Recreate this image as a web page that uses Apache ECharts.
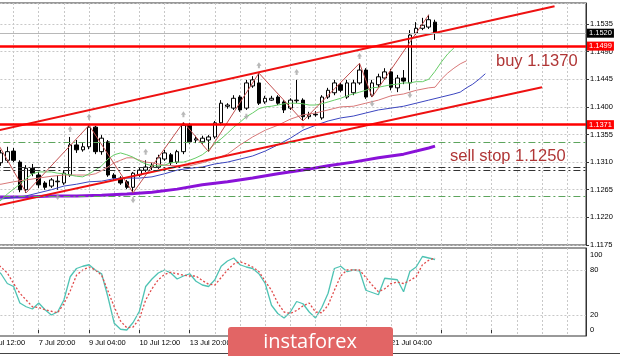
<!DOCTYPE html>
<html><head><meta charset="utf-8">
<script src="https://cdn.jsdelivr.net/npm/echarts@6/dist/echarts.min.js"></script>
<style>html,body{margin:0;padding:0;background:#fff}#c{width:620px;height:356px}</style>
</head><body><div id="c"></div>
<script>
// ---------- data ----------
const BASE = 1.1175;                 // lowest price tick
const PRICE_STEP = 0.0045;           // price tick step
const LEAD = 2;                      // bars before first candle (6 Jul 12:00, 16:00)
const FUTURE = 24;                   // empty bars to the right
const days = ['6 Jul','7 Jul','8 Jul','9 Jul','10 Jul','13 Jul','14 Jul','15 Jul','16 Jul','17 Jul','20 Jul','21 Jul','22 Jul'];
const hours = ['00:00','04:00','08:00','12:00','16:00','20:00'];

// candles i = 0..69 (6 Jul 20:00 .. 22 Jul 08:00), H4
const opens  = [1.1309,1.1313,1.1328,1.1310,1.1265,1.1300,1.1289,1.1276,1.1271,1.1278,1.1276,1.1289,1.1338,1.1330,1.1335,1.1367,1.1327,1.1343,1.1289,1.1284,1.1278,1.1269,1.1289,1.1297,1.1302,1.1302,1.1315,1.1322,1.1310,1.1327,1.1370,1.1346,1.1343,1.1346,1.1351,1.1374,1.1401,1.1398,1.1416,1.1398,1.1434,1.1439,1.1408,1.1411,1.1416,1.1408,1.1398,1.1410,1.1411,1.1384,1.1388,1.1382,1.1416,1.1423,1.1436,1.1416,1.1423,1.1439,1.1460,1.1419,1.1436,1.1447,1.1457,1.1431,1.1447,1.1439,1.1520,1.1528,1.1530,1.1538];
const closes = [1.1325,1.1327,1.1313,1.1265,1.1300,1.1292,1.1273,1.1269,1.1281,1.1279,1.1292,1.1338,1.1330,1.1335,1.1367,1.1327,1.1349,1.1289,1.1284,1.1276,1.1269,1.1292,1.1297,1.1302,1.1305,1.1317,1.1325,1.1309,1.1327,1.1370,1.1343,1.1348,1.1349,1.1351,1.1374,1.1406,1.1403,1.1414,1.1395,1.1439,1.1444,1.1406,1.1414,1.1414,1.1406,1.1395,1.1411,1.1411,1.1384,1.1387,1.1387,1.1416,1.1427,1.1439,1.1427,1.1439,1.1439,1.1460,1.1416,1.1439,1.1449,1.1457,1.1432,1.1447,1.1442,1.1517,1.1528,1.1533,1.1542,1.1520];
const lows   = [1.1304,1.1309,1.1310,1.1261,1.1260,1.1287,1.1268,1.1265,1.1268,1.1265,1.1273,1.1286,1.1325,1.1327,1.1331,1.1323,1.1322,1.1286,1.1281,1.1273,1.1266,1.1260,1.1286,1.1294,1.1297,1.1299,1.1312,1.1305,1.1307,1.1323,1.1340,1.1341,1.1340,1.1327,1.1348,1.1370,1.1397,1.1395,1.1392,1.1395,1.1431,1.1403,1.1405,1.1410,1.1403,1.1390,1.1395,1.1406,1.1377,1.1380,1.1384,1.1379,1.1413,1.1419,1.1424,1.1413,1.1419,1.1436,1.1413,1.1416,1.1432,1.1444,1.1427,1.1424,1.1437,1.1427,1.1517,1.1525,1.1527,1.1509];
const highs  = [1.1330,1.1335,1.1333,1.1313,1.1305,1.1307,1.1294,1.1279,1.1284,1.1289,1.1297,1.1351,1.1346,1.1341,1.1370,1.1369,1.1354,1.1346,1.1292,1.1287,1.1281,1.1294,1.1302,1.1313,1.1309,1.1322,1.1330,1.1325,1.1330,1.1375,1.1374,1.1353,1.1353,1.1354,1.1377,1.1411,1.1406,1.1419,1.1419,1.1444,1.1450,1.1455,1.1418,1.1418,1.1419,1.1411,1.1414,1.1444,1.1414,1.1392,1.1393,1.1419,1.1431,1.1444,1.1439,1.1444,1.1444,1.1471,1.1463,1.1444,1.1454,1.1463,1.1462,1.1452,1.1460,1.1525,1.1538,1.1545,1.1550,1.1542];

// Alligator lips (green), values from bar i = -2 onward
const lips = [1.1232,1.1240,1.1248,1.1258,1.1266,1.1274,1.1283,1.1291,1.1294,1.1294,1.1294,1.1292,1.1291,1.1289,1.1287,1.1286,1.1291,1.1297,1.1304,1.1315,1.1322,1.1325,1.1322,1.1318,1.1312,1.1307,1.1304,1.1304,1.1305,1.1309,1.1310,1.1310,1.1313,1.1317,1.1322,1.1330,1.1340,1.1348,1.1357,1.1367,1.1375,1.1384,1.1390,1.1397,1.1400,1.1401,1.1403,1.1405,1.1406,1.1406,1.1405,1.1403,1.1403,1.1405,1.1408,1.1411,1.1414,1.1418,1.1421,1.1424,1.1427,1.1431,1.1432,1.1434,1.1436,1.1437,1.1439,1.1439,1.1441,1.1441,1.1445,1.1458,1.1473,1.1486,1.1496];
// Alligator teeth (rose) [bar, price]
const teeth = [[-2,1.1273],[0,1.1274],[2,1.1278],[4,1.1281],[6,1.1284],[8,1.1287],[10,1.1289],[12,1.1289],[14,1.1289],[15,1.1291],[16,1.1296],[17,1.1302],[18,1.1309],[19,1.1313],[20,1.1317],[21,1.1317],[22,1.1313],[23,1.1310],[24,1.1309],[26,1.1305],[28,1.1304],[30,1.1304],[32,1.1309],[34,1.1315],[36,1.1323],[38,1.1338],[40,1.1351],[42,1.1362],[44,1.1370],[46,1.1380],[48,1.1387],[50,1.1390],[52,1.1395],[54,1.1400],[56,1.1401],[58,1.1406],[60,1.1411],[62,1.1418],[64,1.1421],[66,1.1427],[68,1.1431],[69,1.1432],[70,1.1445],[71,1.1455],[72,1.1463],[73,1.1470],[74,1.1475]];
// Alligator jaw (blue) [bar, price]
const jaw = [[-2,1.1248],[0,1.1250],[2,1.1252],[4,1.1255],[6,1.1260],[8,1.1265],[10,1.1271],[12,1.1274],[14,1.1278],[16,1.1279],[18,1.1283],[20,1.1284],[22,1.1284],[24,1.1286],[26,1.1291],[28,1.1297],[30,1.1300],[32,1.1302],[34,1.1307],[36,1.1310],[38,1.1315],[40,1.1320],[42,1.1328],[44,1.1338],[46,1.1349],[48,1.1362],[50,1.1370],[52,1.1377],[54,1.1382],[56,1.1385],[58,1.1390],[60,1.1395],[62,1.1398],[64,1.1401],[66,1.1406],[68,1.1411],[70,1.1416],[72,1.1421],[73,1.1424],[74,1.1431],[75,1.1437],[76,1.1445],[77,1.1454]];
// long moving average (purple) [bar, price]
const maLong = [[-2,1.1253],[0,1.1253],[4,1.1253],[8,1.1255],[12,1.1255],[16,1.1256],[20,1.1258],[24,1.1261],[28,1.1266],[32,1.1273],[36,1.1278],[40,1.1284],[44,1.1291],[48,1.1297],[52,1.1304],[56,1.1310],[60,1.1317],[64,1.1323],[68,1.1333],[69,1.1336]];
// zigzag [bar, price]
const zigzag = [[-2,1.1367],[4,1.1260],[14,1.1370],[21,1.1260],[29,1.1375],[33,1.1327],[41,1.1455],[48,1.1377],[57,1.1471],[59,1.1416],[68,1.1550]];
// fractals [bar, price]
const fractalUp = [[11,1.1364],[14,1.1384],[23,1.1327],[29,1.1388],[41,1.1468],[47,1.1457],[57,1.1483]];
const fractalDown = [[9,1.1253],[21,1.1248],[39,1.1384],[48,1.1369],[59,1.1405],[65,1.1419]];
// channel lines [bar, price]
const channelUpper = [[-2,1.1358],[88,1.1564]];
const channelLower = [[-2,1.1236],[86,1.1432]];
// horizontal levels
const redLevels = [1.1499, 1.1371];
const bidPrice = 1.1520;
const greenLevels = [1.1342, 1.1255];
const blackLevels = [1.1302, 1.1296];
// stochastic, from bar i = -2
const stochK = [88,82,75,62,58,36,31,28,36,27,20,24,40,71,82,85,87,80,75,44,9,1,0,10,25,58,68,76,80,76,68,72,75,65,60,58,67,85,92,96,87,84,82,75,62,33,22,16,24,38,35,24,16,30,49,82,85,78,80,79,53,50,47,69,68,67,51,78,84,98,96,94];
const stochD = [92,90,84,76,62,49,40,31,30,27,25,23,35,52,73,80,84,80,73,52,31,12,3,4,15,40,55,67,74,77,75,73,72,72,66,61,60,70,80,88,91,88,84,78,65,53,36,24,22,26,32,36,24,23,33,53,72,80,80,80,70,60,51,55,62,64,62,66,71,87,93,96];
const stochLevels = [80, 20];
const stochLabels = [0, 20, 80, 100];

// ---------- build ----------
const nBars = LEAD + opens.length + FUTURE;
const categories = [];
{
  let d = 0, h = 3; // start 6 Jul 12:00
  for (let k = 0; k < nBars; k++) {
    if (k < LEAD + opens.length) categories.push(days[d] + ' ' + hours[h]);
    else categories.push('f' + k);
    h++; if (h === hours.length) { h = 0; d++; }
  }
}
const sh = v => +(v - BASE).toFixed(6);
const pts = arr => arr.map(([i, v]) => [i + LEAD, sh(v)]);
const candleData = categories.map((_, k) => {
  const i = k - LEAD;
  return (i >= 0 && i < opens.length) ? [sh(opens[i]), sh(closes[i]), sh(lows[i]), sh(highs[i])] : '-';
});
const lipsData = lips.map((v, k) => [k, sh(v)]);
const kData = stochK.map((v, k) => [k, v]);
const dData = stochD.map((v, k) => [k, v]);

const FONT = 'Liberation Sans';
const gridLeft = -11.58, gridRight = 34;
const priceMax = 0.03942;
const gridLineStyle = { color: '#c8c8c8', type: [2, 2], width: 1 };
const fracPath = 'path://M5,0 L10,6 L7,6 L7,10 L3,10 L3,6 L0,6 Z';

const lvlLabel = (txt, bg) => ({ show: true, position: 'end', distance: 1, formatter: txt, backgroundColor: bg, color: '#fff', fontSize: 7.5, fontFamily: FONT, padding: [1, 2, 0, 2] });
const markLines = [];
redLevels.forEach(p => markLines.push({ yAxis: sh(p), lineStyle: { color: '#f00', width: 2.5, type: 'solid' }, label: lvlLabel(p.toFixed(4), '#f00') }));
markLines.push({ yAxis: sh(bidPrice), lineStyle: { color: '#b8b8b8', width: 1, type: 'solid' }, label: lvlLabel(bidPrice.toFixed(4), '#000') });
greenLevels.forEach(p => markLines.push({ yAxis: sh(p), lineStyle: { color: '#5da55d', width: 1, type: [7, 3, 2, 3] }, label: { show: false } }));
blackLevels.forEach(p => markLines.push({ yAxis: sh(p), lineStyle: { color: '#333', width: 1, type: [7, 3, 2, 3] }, label: { show: false } }));

const xBase = (gi, showLabels) => ({
  type: 'category', gridIndex: gi, data: categories, boundaryGap: false,
  axisLine: { show: false },
  axisTick: { show: showLabels, interval: 7, length: 3, lineStyle: { color: '#333' } },
  axisLabel: {
    show: showLabels, interval: 7, align: 'left', margin: 3, fontSize: 7.5, fontFamily: FONT, color: '#000',
    showMinLabel: true, showMaxLabel: false, hideOverlap: false,
    formatter: v => v.charAt(0) === 'f' ? '' : v
  },
  splitLine: { show: true, interval: 3, lineStyle: gridLineStyle }
});

const option = {
  animation: false,
  backgroundColor: '#fff',
  grid: [
    { left: gridLeft, right: gridRight, top: 3, height: 242, show: true, borderColor: '#333', borderWidth: 1, containLabel: false, outerBoundsMode: 'none' },
    { left: gridLeft, right: gridRight, top: 248, height: 88, show: true, borderColor: '#333', borderWidth: 1, containLabel: false, outerBoundsMode: 'none' }
  ],
  xAxis: [xBase(0, false), xBase(1, true)],
  yAxis: [
    {
      type: 'value', gridIndex: 0, position: 'right', min: 0, max: priceMax, interval: PRICE_STEP, scale: false,
      axisLine: { show: true, lineStyle: { color: '#333' } },
      axisTick: { show: true, length: 3, lineStyle: { color: '#333' } },
      axisLabel: { fontSize: 7.5, fontFamily: FONT, color: '#000', margin: 4, showMaxLabel: false,
        formatter: v => (v + BASE).toFixed(4) },
      splitLine: { show: true, lineStyle: gridLineStyle }
    },
    {
      type: 'value', gridIndex: 1, position: 'right', min: -8, max: 109.33, interval: 4,
      axisLine: { show: true, lineStyle: { color: '#333' } },
      axisTick: { show: false },
      axisLabel: { fontSize: 7.5, fontFamily: FONT, color: '#000', margin: 4, showMaxLabel: false, showMinLabel: false,
        formatter: v => stochLabels.indexOf(Math.round(v)) >= 0 && Math.abs(v - Math.round(v)) < 1e-6 ? String(Math.round(v)) : '' },
      splitLine: { show: false }
    }
  ],
  series: [
    {
      type: 'candlestick', xAxisIndex: 0, yAxisIndex: 0, data: candleData, barWidth: 4, z: 2,
      itemStyle: { color: '#fff', color0: '#000', borderColor: '#000', borderColor0: '#000', borderWidth: 1 },
      emphasis: { disabled: true }
    },
    { type: 'line', xAxisIndex: 0, yAxisIndex: 0, data: pts(maLong), symbol: 'none', z: 3,
      lineStyle: { color: '#8a12d8', width: 3 } },
    { type: 'line', xAxisIndex: 0, yAxisIndex: 0, data: pts(jaw), symbol: 'none', z: 3,
      lineStyle: { color: '#3c46c0', width: 1 } },
    { type: 'line', xAxisIndex: 0, yAxisIndex: 0, data: pts(teeth), symbol: 'none', z: 3,
      lineStyle: { color: '#d87878', width: 1 } },
    { type: 'line', xAxisIndex: 0, yAxisIndex: 0, data: lipsData, symbol: 'none', z: 3,
      lineStyle: { color: '#66cc66', width: 1 } },
    { type: 'line', xAxisIndex: 0, yAxisIndex: 0, data: pts(zigzag), symbol: 'none', z: 3,
      lineStyle: { color: '#c25050', width: 1 } },
    { type: 'scatter', xAxisIndex: 0, yAxisIndex: 0, data: pts(fractalUp), symbol: fracPath, symbolSize: [5, 6], z: 3,
      itemStyle: { color: '#a8a8a8' } },
    { type: 'scatter', xAxisIndex: 0, yAxisIndex: 0, data: pts(fractalDown), symbol: fracPath, symbolRotate: 180, symbolSize: [5, 6], z: 3,
      itemStyle: { color: '#a8a8a8' } },
    { type: 'line', xAxisIndex: 0, yAxisIndex: 0, data: pts(channelUpper), symbol: 'none', z: 4,
      lineStyle: { color: '#ee1111', width: 2 },
      markLine: { silent: true, precision: 6, symbol: ['none', 'none'], animation: false, data: markLines } },
    { type: 'line', xAxisIndex: 0, yAxisIndex: 0, data: pts(channelLower), symbol: 'none', z: 4,
      lineStyle: { color: '#ee1111', width: 2 } },
    { type: 'line', xAxisIndex: 1, yAxisIndex: 1, data: kData, symbol: 'none', z: 3,
      lineStyle: { color: '#4fc3b4', width: 1.3 },
      markLine: { silent: true, precision: 4, symbol: ['none', 'none'], label: { show: false },
        data: stochLevels.map(v => ({ yAxis: v, lineStyle: { color: '#c8c8c8', type: [2, 2], width: 1 } })) } },
    { type: 'line', xAxisIndex: 1, yAxisIndex: 1, data: dData, symbol: 'none', z: 3,
      lineStyle: { color: '#e04a4a', width: 1.3, type: [2, 2] } }
  ],
  graphic: [
    { type: 'text', z: 50, style: { text: 'buy 1.1370', x: 496, y: 61, fill: '#b03636', fontSize: 16.5, fontFamily: FONT, verticalAlign: 'middle' } },
    { type: 'text', z: 50, style: { text: 'sell stop 1.1250', x: 450, y: 156, fill: '#b03636', fontSize: 16.5, fontFamily: FONT, verticalAlign: 'middle' } },
    { type: 'line', z: 50, shape: { x1: 0, y1: 353.5, x2: 620, y2: 353.5 }, style: { stroke: '#444', lineWidth: 1 } },
    { type: 'rect', z: 60, shape: { x: 228, y: 327, width: 165, height: 31, r: 3 }, style: { fill: '#e26565' } },
    { type: 'text', z: 61, style: { text: 'instaforex', x: 310, y: 342, fill: '#fff', fontSize: 20, fontFamily: 'Open Sans', align: 'center', verticalAlign: 'middle' } }
  ]
};
const chart = echarts.init(document.getElementById('c'));
chart.setOption(option);
</script>
</body></html>
